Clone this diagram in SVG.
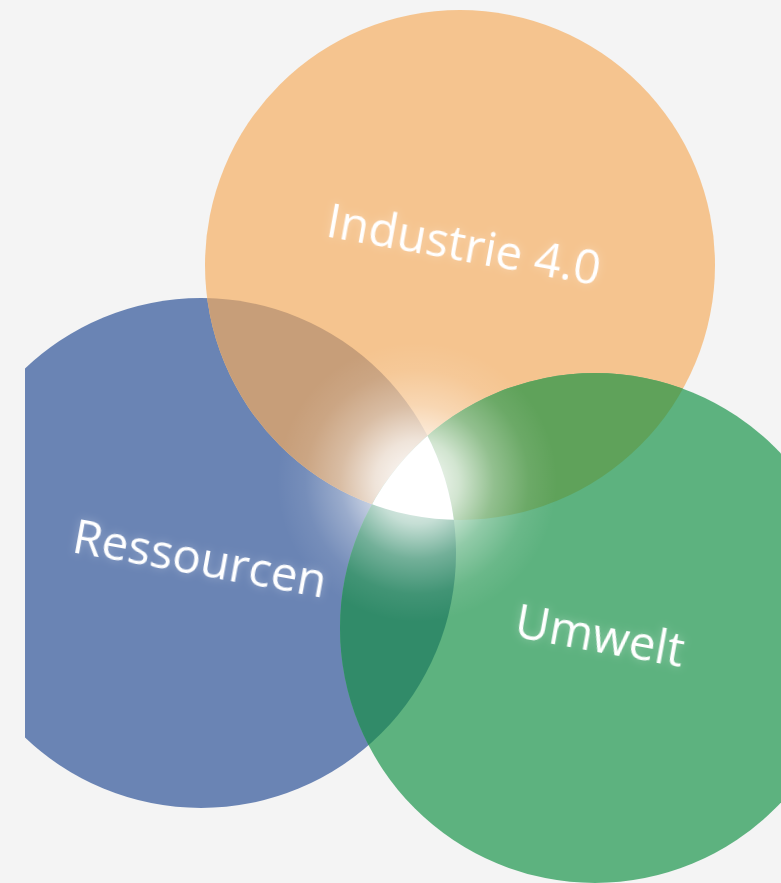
<svg xmlns="http://www.w3.org/2000/svg" width="781" height="883" viewBox="0 0 781 883">
<style>
.lbl{font-family:"Open Sans","DejaVu Sans",sans-serif;font-size:47.5px;fill:#ffffff;text-anchor:middle;filter:url(#glow)}
</style>
<defs>
<clipPath id="cpO"><circle cx="460" cy="265" r="255"/></clipPath>
<clipPath id="cpB"><circle cx="201" cy="553" r="255"/></clipPath>
<clipPath id="cpG"><circle cx="595" cy="628" r="255"/></clipPath>
<clipPath id="cpL"><rect x="25" y="0" width="756" height="883"/></clipPath>
<radialGradient id="rg" cx="417" cy="482" r="140" gradientUnits="userSpaceOnUse">
<stop offset="0" stop-color="#fff" stop-opacity="1"/>
<stop offset="0.3" stop-color="#fff" stop-opacity="0.72"/>
<stop offset="0.55" stop-color="#fff" stop-opacity="0.32"/>
<stop offset="0.8" stop-color="#fff" stop-opacity="0.08"/>
<stop offset="1" stop-color="#fff" stop-opacity="0"/>
</radialGradient>
<filter id="glow" x="-20%" y="-40%" width="140%" height="180%">
<feGaussianBlur in="SourceAlpha" stdDeviation="4" result="b"/>
<feFlood flood-color="#ffffff" flood-opacity="0.3"/>
<feComposite in2="b" operator="in" result="g"/>
<feMerge><feMergeNode in="g"/><feMergeNode in="SourceGraphic"/></feMerge>
</filter>
</defs>
<rect width="781" height="883" fill="#f4f4f4"/>
<g id="ressourcen" clip-path="url(#cpL)">
<circle cx="201" cy="553" r="255" fill="#6a84b4"/>
</g>
<g id="industrie">
<circle cx="460" cy="265" r="255" fill="#f5c48f"/>
</g>
<g id="umwelt">
<circle cx="595" cy="628" r="255" fill="#5db27f"/>
</g>
<g id="overlaps">
<g clip-path="url(#cpO)"><circle cx="201" cy="553" r="255" fill="#c79e79"/></g>
<g clip-path="url(#cpO)"><circle cx="595" cy="628" r="255" fill="#5fa25a"/></g>
<g clip-path="url(#cpB)"><circle cx="595" cy="628" r="255" fill="#318b69"/></g>
<circle cx="417" cy="482" r="140" fill="url(#rg)"/>
<g clip-path="url(#cpO)"><g clip-path="url(#cpB)"><circle cx="595" cy="628" r="255" fill="#ffffff"/></g></g>
</g>
<g id="labels">
<text class="lbl" transform="translate(461,261) rotate(10.3)">Industrie 4.0</text>
<text class="lbl" transform="translate(197,575) rotate(10.3)">Ressourcen</text>
<text class="lbl" transform="translate(597,652) rotate(10.3)">Umwelt</text>
</g>
</svg>
